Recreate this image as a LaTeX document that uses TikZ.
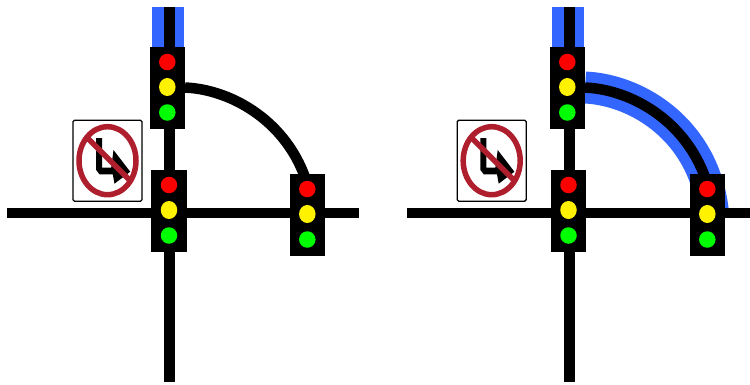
\documentclass[tikz,border=0pt]{standalone}
\usetikzlibrary{shapes.geometric}
\definecolor{routeblue}{HTML}{3366FF}
\definecolor{signred}{HTML}{AF1E2D}
\tikzset{
  x=1pt,y=-1pt,
  road/.style={line width=10.5pt,black},
  route/.style={line width=32pt,routeblue},
  housing/.style={fill=black,draw=none,minimum width=35.5pt,minimum height=82pt,inner sep=0pt,outer sep=0pt},
  lamp/.style={circle,draw=none,minimum size=16.5pt,inner sep=0pt,outer sep=0pt},
  yellowlamp/.style={ellipse,fill=yellow,draw=none,minimum width=16.5pt,minimum height=18pt,inner sep=0pt,outer sep=0pt},
  plate/.style={draw=black,fill=white,line width=1.3pt,rounded corners=1.5pt,minimum width=69pt,minimum height=81pt,inner sep=0pt},
  ban/.style={draw=signred,line width=5.5pt}
}
\newcommand{\trafficsignal}[3]{%
  \node[housing] (#1) at (#2,#3) {};
  \node[lamp,fill=red] (#1r) at ([yshift=26pt]#1.center) {};
  \node[yellowlamp] (#1y) at ([yshift=1pt]#1.center) {};
  \node[lamp,fill=green] (#1g) at ([yshift=-24.5pt]#1.center) {};
}
\newcommand{\nosign}[3]{%
  \node[plate] (#1) at (#2,#3) {};
  \begin{scope}[shift={(#1.center)}]
    \fill[black] (-11.3,-22.7) -- (-5.3,-22.7) -- (-5.3,7) -- (3.7,7) -- (6,-10.7) -- (22.7,11) -- (7,23) -- (5.3,13.6) -- (-8,13.6) -- (-11.3,9.3) -- cycle;
    \draw[ban] (0,0) ellipse[x radius=28.5,y radius=34];
    \draw[ban] (-21.3,-24) -- (21.4,18.6);
  \end{scope}
}
\begin{document}
\begin{tikzpicture}
\useasboundingbox (0,0) rectangle (750,384);
% left panel
\coordinate (ltop) at (169.5,7);
\coordinate (lbot) at (169.5,382);
\coordinate (lwest) at (7,213);
\coordinate (least) at (359,213);
\coordinate (lbtop) at (168,7);
\coordinate (lbend) at (168,47);
\coordinate (lcs) at (185,87.5);
\coordinate (lce) at (313,213);
\draw[route] (lbtop) -- (lbend);
\draw[road] (ltop) -- (lbot);
\draw[road] (lwest) -- (least);
\draw[road] (lcs) .. controls +(55,2.5) and +(-8,-80) .. (lce);
\trafficsignal{la}{167.3}{88}
\trafficsignal{lb}{169}{211}
\trafficsignal{lc}{307.3}{215}
\nosign{lsign}{107.5}{160.7}
% right panel
\coordinate (rtop) at (569.3,7);
\coordinate (rbot) at (569.3,382);
\coordinate (rwest) at (407,213);
\coordinate (reast) at (750,213);
\coordinate (rbtop) at (568,7);
\coordinate (rbend) at (568,47);
\coordinate (rcs) at (585,87.5);
\coordinate (rce) at (713,213);
\draw[route] (rbtop) -- (rbend);
\draw[route] (rcs) .. controls +(55,2.5) and +(-8,-80) .. (rce);
\draw[road] (rtop) -- (rbot);
\draw[road] (rwest) -- (reast);
\draw[road] (rcs) .. controls +(55,2.5) and +(-8,-80) .. (rce);
\trafficsignal{ra}{567.3}{88}
\trafficsignal{rb}{568.5}{211}
\trafficsignal{rc}{707.3}{215}
\nosign{rsign}{491.7}{160.7}
\end{tikzpicture}
\end{document}
